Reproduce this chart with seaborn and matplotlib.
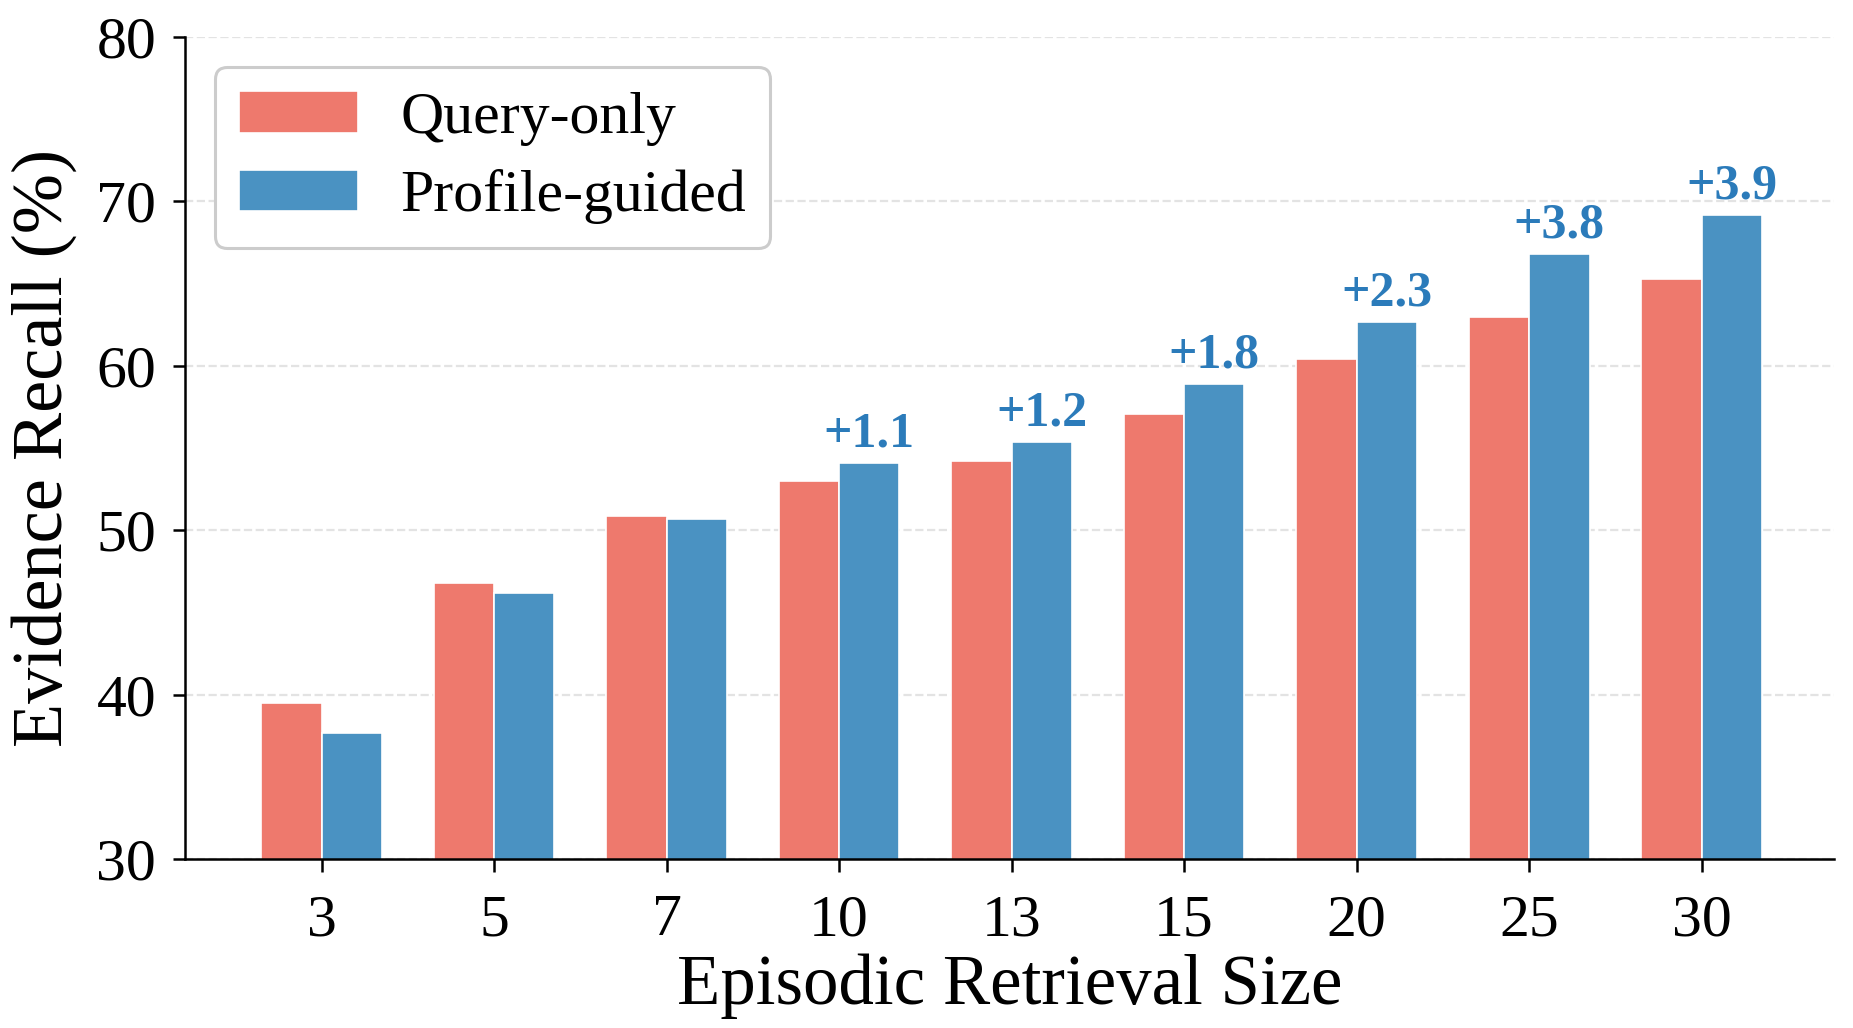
import matplotlib
matplotlib.use("Agg")
import matplotlib.pyplot as plt
import pandas as pd
import seaborn as sns

# retrieval sizes and recall values (%)
sizes = ["3", "5", "7", "10", "13", "15", "20", "25", "30"]
query_only = [39.5, 46.8, 50.9, 53.0, 54.2, 57.1, 60.4, 63.0, 65.3]
profile_guided = [37.7, 46.2, 50.7, 54.1, 55.4, 58.9, 62.7, 66.8, 69.2]
methods = ["Query-only", "Profile-guided"]

sns.set_theme(style="ticks")
plt.rcParams["font.family"] = ["Liberation Serif", "DejaVu Serif"]
for k in ["text.color", "axes.labelcolor", "xtick.color", "ytick.color"]:
    plt.rcParams[k] = "black"

df = pd.DataFrame({
    "size": sizes * 2,
    "recall": query_only + profile_guided,
    "method": [methods[0]] * len(sizes) + [methods[1]] * len(sizes),
})

fig, ax = plt.subplots(figsize=(18.53, 10.28), dpi=100)
fig.subplots_adjust(left=0.100, right=0.990, top=0.964, bottom=0.164)

sns.barplot(data=df, x="size", y="recall", hue="method", order=sizes,
            hue_order=methods, palette=["#EE796D", "#4A92C2"], saturation=1,
            width=0.7, edgecolor="white", linewidth=1.2, ax=ax)

# gain labels over the profile-guided bars, only where it helps
gain_labels = []
for q, p in zip(query_only, profile_guided):
    d = p - q
    gain_labels.append("+%.1f" % d if d > 0.5 else "")
ax.bar_label(ax.containers[1], labels=gain_labels, padding=4,
             fontsize=36, fontweight="bold", color="#2B7BBA")

ax.set_ylim(30, 80)
ax.set_xlim(-0.79, 8.77)
ax.set_yticks([30, 40, 50, 60, 70, 80])
ax.yaxis.grid(True, linestyle="--", color="#e3e3e3", linewidth=1.6)
ax.set_axisbelow(True)
sns.despine(ax=ax)
for s in ["left", "bottom"]:
    ax.spines[s].set_linewidth(1.8)
    ax.spines[s].set_color("black")
ax.tick_params(axis="both", labelsize=43, length=9, width=1.8, color="black")
ax.tick_params(axis="x", pad=16)
ax.tick_params(axis="y", pad=12)

ax.set_xlabel("Episodic Retrieval Size", fontsize=51, labelpad=4)
ax.set_ylabel("Evidence Recall (%)", fontsize=52, labelpad=14)

leg = ax.legend(loc="upper left", fontsize=43, frameon=True, fancybox=True,
                borderpad=0.4, labelspacing=0.4, handlelength=2.0,
                handleheight=0.7, handletextpad=0.7,
                bbox_to_anchor=(0.0, 1.0))
leg.get_frame().set_edgecolor("#cccccc")
leg.get_frame().set_linewidth(2.2)
leg.get_frame().set_alpha(1.0)

plt.savefig("out.png", dpi=100)
